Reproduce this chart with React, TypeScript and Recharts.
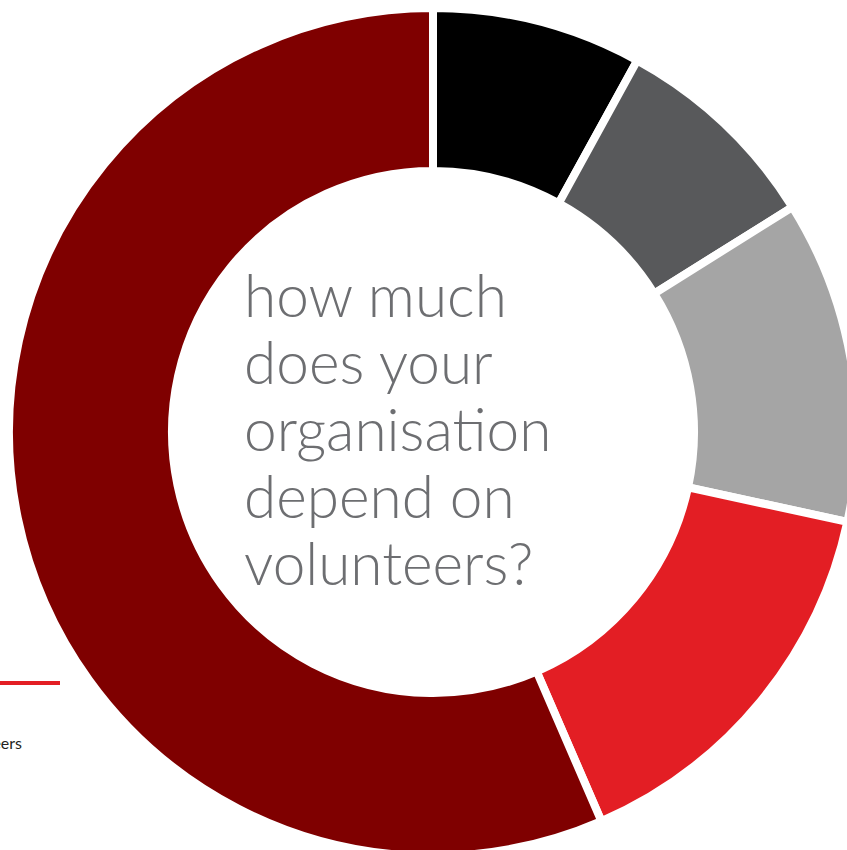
import React from 'react';
import { PieChart, Pie, Cell } from 'recharts';

const categories = ['Entirely', 'Mostly', 'Partly', 'A little', 'Not at all'];
const shares = [8, 8.1, 12.3, 15.1, 56.5];
const colors = ['#000000', '#58595b', '#a5a5a5', '#e31e24', '#7f0000'];
const centerLines = ['how much', 'does your', 'organisation', 'depend on', 'volunteers?'];
const legendText = 'Run entirely by volunteers';

const data = categories.map((name, i) => ({ name, value: shares[i] }));

export default function App() {
  return (
    <div style={{ position: 'absolute', left: 0, top: 0, width: 847, height: 850, overflow: 'hidden', background: '#ffffff' }}>
      <PieChart width={847} height={850} margin={{ top: 0, right: 0, bottom: 0, left: 0 }}>
        <Pie
          data={data}
          dataKey="value"
          nameKey="name"
          cx={433}
          cy={432}
          innerRadius={261}
          outerRadius={424}
          startAngle={90}
          endAngle={-270}
          stroke="#ffffff"
          strokeWidth={8}
          isAnimationActive={false}
        >
          {data.map((d, i) => (
            <Cell key={d.name} fill={colors[i]} />
          ))}
        </Pie>
      </PieChart>
      <div
        style={{
          position: 'absolute',
          left: 244,
          top: 261,
          fontFamily: 'Lato, sans-serif',
          fontWeight: 300,
          fontSize: 58.5,
          lineHeight: '67px',
          color: '#6d6e71',
          whiteSpace: 'nowrap',
        }}
      >
        {centerLines.map((l) => (
          <div key={l}>{l}</div>
        ))}
      </div>
      <div style={{ position: 'absolute', left: 0, top: 681, width: 60, height: 4, background: '#e31e24' }} />
      <div
        style={{
          position: 'absolute',
          right: 847 - 22,
          top: 733,
          fontFamily: 'Lato, sans-serif',
          fontSize: 16,
          color: '#231f20',
          whiteSpace: 'nowrap',
        }}
      >
        {legendText}
      </div>
    </div>
  );
}
